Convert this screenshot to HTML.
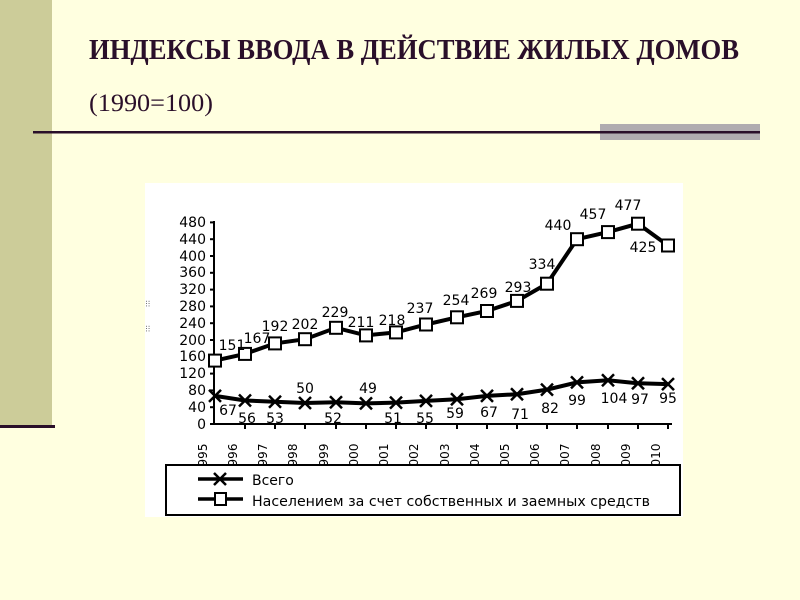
<!DOCTYPE html>
<html><head><meta charset="utf-8"><style>
html,body{margin:0;padding:0;background:#ffffe0;}
svg{display:block}
</style></head><body>
<svg width="800" height="600" xmlns="http://www.w3.org/2000/svg" font-family="DejaVu Sans, Liberation Sans, sans-serif">
<rect width="800" height="600" fill="#ffffe0"/>
<rect x="0" y="0" width="52" height="425" fill="#cccc99"/>
<rect x="0" y="425" width="55" height="3" fill="#2a0f2a"/>
<text x="89" y="59" font-family="Liberation Serif, serif" font-weight="bold" font-size="29" fill="#2a0f2a" textLength="650" lengthAdjust="spacingAndGlyphs">ИНДЕКСЫ ВВОДА В ДЕЙСТВИЕ ЖИЛЫХ ДОМОВ</text>
<text x="89" y="111" font-family="Liberation Serif, serif" font-size="25" fill="#2a0f2a" textLength="124" lengthAdjust="spacingAndGlyphs">(1990=100)</text>
<rect x="600" y="124" width="160" height="16" fill="#b0acb0"/>
<rect x="33" y="131" width="727" height="2.5" fill="#2a0f2a"/>

<rect x="145" y="183" width="538" height="334" fill="#ffffff"/>
<g font-size="7" fill="#000">
<text transform="translate(146,300) rotate(90)">:::</text>
<text transform="translate(146,325) rotate(90)">:::</text>
</g>
<g stroke="#000" stroke-width="2">
<line x1="214" y1="221" x2="214" y2="425"/>
<line x1="214" y1="424" x2="672" y2="424"/>
</g>
<g stroke="#000" stroke-width="2">
<line x1="210" y1="424" x2="214" y2="424"/><line x1="210" y1="407.2" x2="214" y2="407.2"/><line x1="210" y1="390.4" x2="214" y2="390.4"/><line x1="210" y1="373.6" x2="214" y2="373.6"/><line x1="210" y1="356.8" x2="214" y2="356.8"/><line x1="210" y1="340" x2="214" y2="340"/><line x1="210" y1="323.2" x2="214" y2="323.2"/><line x1="210" y1="306.4" x2="214" y2="306.4"/><line x1="210" y1="289.6" x2="214" y2="289.6"/><line x1="210" y1="272.8" x2="214" y2="272.8"/><line x1="210" y1="256" x2="214" y2="256"/><line x1="210" y1="239.2" x2="214" y2="239.2"/><line x1="210" y1="222.4" x2="214" y2="222.4"/>
</g>
<g font-size="14" fill="#000" text-anchor="end">
<text x="206" y="429">0</text><text x="206" y="412">40</text><text x="206" y="395">80</text><text x="206" y="378">120</text><text x="206" y="361">160</text><text x="206" y="345">200</text><text x="206" y="328">240</text><text x="206" y="311">280</text><text x="206" y="294">320</text><text x="206" y="277">360</text><text x="206" y="261">400</text><text x="206" y="244">440</text><text x="206" y="227">480</text>
</g>
<g stroke="#000" stroke-width="2">
<line x1="245" y1="424" x2="245" y2="429"/><line x1="275" y1="424" x2="275" y2="429"/><line x1="305" y1="424" x2="305" y2="429"/><line x1="336" y1="424" x2="336" y2="429"/><line x1="366" y1="424" x2="366" y2="429"/><line x1="396" y1="424" x2="396" y2="429"/><line x1="426" y1="424" x2="426" y2="429"/><line x1="457" y1="424" x2="457" y2="429"/><line x1="487" y1="424" x2="487" y2="429"/><line x1="517" y1="424" x2="517" y2="429"/><line x1="547" y1="424" x2="547" y2="429"/><line x1="577" y1="424" x2="577" y2="429"/><line x1="608" y1="424" x2="608" y2="429"/><line x1="638" y1="424" x2="638" y2="429"/><line x1="668" y1="424" x2="668" y2="429"/>
</g>
<g font-size="12" fill="#000" text-anchor="middle">
<text transform="translate(207,455) rotate(-90)">995</text>
<text transform="translate(237,455) rotate(-90)">996</text>
<text transform="translate(267,455) rotate(-90)">997</text>
<text transform="translate(297,455) rotate(-90)">998</text>
<text transform="translate(328,455) rotate(-90)">999</text>
<text transform="translate(358,455) rotate(-90)">000</text>
<text transform="translate(388,455) rotate(-90)">001</text>
<text transform="translate(418,455) rotate(-90)">002</text>
<text transform="translate(449,455) rotate(-90)">003</text>
<text transform="translate(479,455) rotate(-90)">004</text>
<text transform="translate(509,455) rotate(-90)">005</text>
<text transform="translate(539,455) rotate(-90)">006</text>
<text transform="translate(569,455) rotate(-90)">007</text>
<text transform="translate(600,455) rotate(-90)">008</text>
<text transform="translate(630,455) rotate(-90)">009</text>
<text transform="translate(660,455) rotate(-90)">010</text>
</g>

<polyline fill="none" stroke="#000" stroke-width="4" points="215,360.6 245,353.9 275,343.4 305,339.2 336,327.8 366,335.4 396,332.4 426,324.5 457,317.3 487,311 517,300.9 547,283.7 577,239.2 608,232.1 638,223.7 668,245.5"/>
<g fill="#fff" stroke="#000" stroke-width="2">
<rect x="209" y="354.6" width="12" height="12"/><rect x="239" y="347.9" width="12" height="12"/><rect x="269" y="337.4" width="12" height="12"/><rect x="299" y="333.2" width="12" height="12"/><rect x="330" y="321.8" width="12" height="12"/><rect x="360" y="329.4" width="12" height="12"/><rect x="390" y="326.4" width="12" height="12"/><rect x="420" y="318.5" width="12" height="12"/><rect x="451" y="311.3" width="12" height="12"/><rect x="481" y="305" width="12" height="12"/><rect x="511" y="294.9" width="12" height="12"/><rect x="541" y="277.7" width="12" height="12"/><rect x="571" y="233.2" width="12" height="12"/><rect x="602" y="226.1" width="12" height="12"/><rect x="632" y="217.7" width="12" height="12"/><rect x="662" y="239.5" width="12" height="12"/>
</g>
<polyline fill="none" stroke="#000" stroke-width="4" points="215,395.9 245,400.5 275,401.7 305,403 336,402.2 366,403.4 396,402.6 426,400.9 457,399.2 487,395.9 517,394.2 547,389.6 577,382.4 608,380.3 638,383.3 668,384.1"/>
<g stroke="#000" stroke-width="2.5">
<path d="M209,389.9l12,12M221,389.9l-12,12"/><path d="M239,394.5l12,12M251,394.5l-12,12"/><path d="M269,395.7l12,12M281,395.7l-12,12"/><path d="M299,397l12,12M311,397l-12,12"/><path d="M330,396.2l12,12M342,396.2l-12,12"/><path d="M360,397.4l12,12M372,397.4l-12,12"/><path d="M390,396.6l12,12M402,396.6l-12,12"/><path d="M420,394.9l12,12M432,394.9l-12,12"/><path d="M451,393.2l12,12M463,393.2l-12,12"/><path d="M481,389.9l12,12M493,389.9l-12,12"/><path d="M511,388.2l12,12M523,388.2l-12,12"/><path d="M541,383.6l12,12M553,383.6l-12,12"/><path d="M571,376.4l12,12M583,376.4l-12,12"/><path d="M602,374.3l12,12M614,374.3l-12,12"/><path d="M632,377.3l12,12M644,377.3l-12,12"/><path d="M662,378.1l12,12M674,378.1l-12,12"/>
</g>
<g font-size="14" fill="#000" text-anchor="middle">
<text x="232" y="350">151</text><text x="257" y="343">167</text><text x="275" y="331">192</text><text x="305" y="329">202</text><text x="335" y="317">229</text><text x="361" y="327">211</text><text x="392" y="325">218</text><text x="420" y="313">237</text><text x="456" y="305">254</text><text x="484" y="298">269</text><text x="518" y="292">293</text><text x="542" y="269">334</text><text x="558" y="230">440</text><text x="593" y="219">457</text><text x="628" y="210">477</text><text x="643" y="252">425</text>
<text x="228" y="415">67</text><text x="247" y="423">56</text><text x="275" y="423">53</text><text x="305" y="393">50</text><text x="333" y="423">52</text><text x="368" y="393">49</text><text x="393" y="423">51</text><text x="425" y="423">55</text><text x="455" y="418">59</text><text x="489" y="417">67</text><text x="520" y="419">71</text><text x="550" y="413">82</text><text x="577" y="405">99</text><text x="614" y="403">104</text><text x="640" y="404">97</text><text x="668" y="403">95</text>
</g>
<rect x="166" y="465" width="514" height="50" fill="#fff" stroke="#000" stroke-width="2"/>
<line x1="198" y1="479" x2="243" y2="479" stroke="#000" stroke-width="3.5"/>
<path d="M214,473l12,12M226,473l-12,12" stroke="#000" stroke-width="2.5"/>
<line x1="198" y1="499" x2="243" y2="499" stroke="#000" stroke-width="3.5"/>
<rect x="215" y="493" width="11" height="12" fill="#fff" stroke="#000" stroke-width="2"/>
<g font-size="14" fill="#000">
<text x="252" y="485">Всего</text>
<text x="252" y="506" textLength="398" lengthAdjust="spacingAndGlyphs">Населением за счет собственных и заемных средств</text>
</g>
</svg>
</body></html>
